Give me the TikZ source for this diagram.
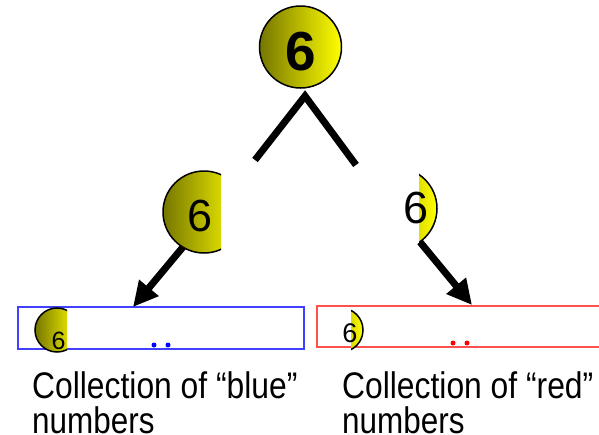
\documentclass[tikz,border=0pt]{standalone}
\usepackage{fontspec}
\setmainfont{Liberation Sans}
\usetikzlibrary{arrows.meta}

\definecolor{ballDark}{RGB}{118,118,0}
\definecolor{ballLight}{RGB}{255,255,0}
\definecolor{boxBlue}{RGB}{64,64,255}
\definecolor{boxRed}{RGB}{255,80,80}

\tikzset{
  ballshade/.style={left color=ballDark, right color=ballLight},
  ballrim/.style={draw=black, line width=1.5pt},
  branch/.style={line width=7pt, line join=miter},
  pointer/.style={line width=7pt, -{Triangle[length=25pt,width=24pt]}},
  collection/.style={line width=2pt, inner sep=0pt},
  digit/.style={inner sep=0pt, text=black},
  dotmark/.style={circle, inner sep=0pt, minimum size=5pt},
  caption/.style={anchor=base west, inner sep=0pt, font=\fontsize{37}{44}\selectfont},
}

\begin{document}
\begin{tikzpicture}[x=1pt,y=-1pt]
\useasboundingbox (0,0) rectangle (599,434);

% root ball
\coordinate (root) at (300.5,47);
\shade[ballshade] (root) circle[radius=41];
\draw[ballrim] (root) circle[radius=41];
\node[digit, font=\fontsize{55}{60}\selectfont\bfseries] (rootlabel) at (301,52) {6};

% split below the root
\coordinate (apex) at (305,96);
\coordinate (vl) at (255,160);
\coordinate (vr) at (356,165);
\draw[branch] (vl) -- (apex) -- (vr);

% left part of the ball
\coordinate (lball) at (204,212);
\begin{scope}
  \clip (150,160) rectangle (221,260);
  \shade[ballshade] (lball) circle[radius=41];
  \draw[ballrim] (lball) circle[radius=41];
\end{scope}
\node[digit, font=\fontsize{45}{54}\selectfont] (llabel) at (200.5,216) {6};

% right part of the ball
\coordinate (rball) at (396,208.5);
\begin{scope}
  \clip (419,160) rectangle (450,260);
  \shade[ballshade] (rball) circle[radius=41];
  \draw[ballrim] (rball) circle[radius=41];
\end{scope}
\node[digit, font=\fontsize{45}{54}\selectfont] (rlabel) at (416.5,208.5) {6};

% collections
\node[collection, draw=boxBlue, minimum width=286pt, minimum height=42pt] (bluebox) at (161,328) {};
\node[collection, draw=boxRed, minimum width=288pt, minimum height=41pt] (redbox) at (461,326.5) {};

% pointers into the collections
\coordinate (ls) at (183,247);
\coordinate (lt) at (133,307);
\coordinate (rs) at (420,242);
\coordinate (rt) at (472,305);
\draw[pointer] (ls) -- (lt);
\draw[pointer] (rs) -- (rt);

% small ball pieces inside the collections
\coordinate (bsmall) at (57,330);
\begin{scope}
  \clip (30,300) rectangle (67,360);
  \shade[ballshade] (bsmall) circle[radius=22];
  \draw[ballrim] (bsmall) circle[radius=22];
\end{scope}
\node[digit, font=\fontsize{25}{30}\selectfont] (bsmalllabel) at (58.5,341) {6};

\coordinate (rsmall) at (341,330);
\begin{scope}
  \clip (351,300) rectangle (370,360);
  \shade[ballshade] (rsmall) circle[radius=22];
  \draw[ballrim] (rsmall) circle[radius=22];
\end{scope}
\node[digit, font=\fontsize{27}{32}\selectfont] (rsmalllabel) at (350,333) {6};

% ellipsis dots
\node[dotmark, fill=blue] (bd1) at (154,345) {};
\node[dotmark, fill=blue] (bd2) at (168,345) {};
\node[dotmark, fill=red] (rd1) at (453,343) {};
\node[dotmark, fill=red] (rd2) at (467,343) {};

% captions
\node[caption] (bluecap1) at (32,398) {\scalebox{0.86}[1]{Collection of “blue”}};
\node[caption] (bluecap2) at (32,433) {\scalebox{0.85}[1]{numbers}};
\node[caption] (redcap1) at (342,398) {\scalebox{0.86}[1]{Collection of “red”}};
\node[caption] (redcap2) at (342,433) {\scalebox{0.85}[1]{numbers}};
\end{tikzpicture}
\end{document}
